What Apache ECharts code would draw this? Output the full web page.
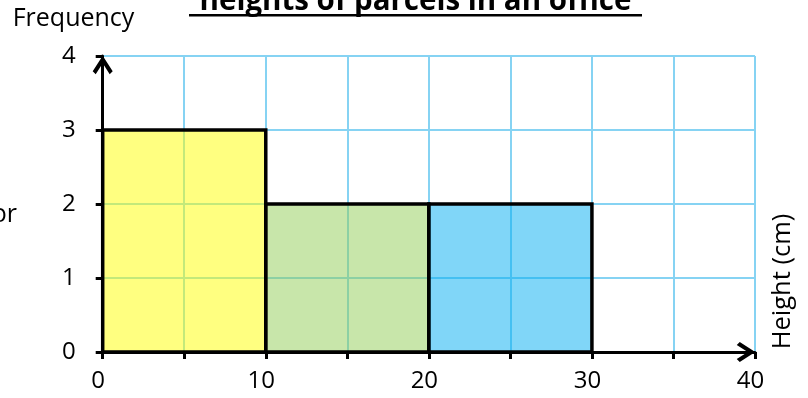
<!DOCTYPE html>
<html>
<head>
<meta charset="utf-8">
<script src="https://cdn.jsdelivr.net/npm/echarts@6/dist/echarts.min.js"></script>
<style>
html,body{margin:0;padding:0;background:#fff;}
#c{width:808px;height:398px;}
</style>
</head>
<body>
<div id="c"></div>
<script>
// ---- data ----
const binStarts = [0, 10, 20];
const binEnds = [10, 20, 30];
const frequencies = [3, 2, 2];
const xTickLabels = ['0', '10', '20', '30', '40'];
const yTickLabels = ['0', '1', '2', '3', '4'];
const titleText = 'heights of parcels in an office';
const yName = 'Frequency';
const xName = 'Height (cm)';
const cutText = 'or';

// ---- style ----
const barFills = ['rgba(255,255,1,0.5)', 'rgba(145,205,85,0.5)', 'rgba(1,173,241,0.5)'];
const FONT = '"Open Sans"';
const gridColor = '#86d3f3';
const chevron = 'path://M10,0 L20,15.5 L17,18.5 L10,7.5 L3,18.5 L0,15.5 Z';

const barData = binStarts.map((s, i) => [s, binEnds[i], frequencies[i], i]);

const chart = echarts.init(document.getElementById('c'), null, {renderer: 'canvas'});
chart.setOption({
  animation: false,
  backgroundColor: '#fff',
  grid: {left: 102.7, right: 53, top: 56, bottom: 46, containLabel: false},
  xAxis: {
    type: 'value', min: 0, max: 40, interval: 5,
    axisLine: {show: true, onZero: false, lineStyle: {color: '#000', width: 3},
      symbol: ['none', chevron], symbolSize: [20, 18.5], symbolOffset: [0, -9]},
    axisTick: {show: true, length: 7, lineStyle: {color: '#000', width: 3}},
    axisLabel: {
      margin: 17, color: '#000', fontFamily: FONT, fontSize: 24, padding: [0, 9, 0, 0],
      formatter: v => (xTickLabels.indexOf(String(v)) >= 0 ? String(v) : '')
    },
    splitLine: {show: true, lineStyle: {color: gridColor, width: 2}}
  },
  yAxis: {
    type: 'value', min: 0, max: 4, interval: 1,
    axisLine: {show: true, onZero: false, lineStyle: {color: '#000', width: 3},
      symbol: ['none', chevron], symbolSize: [20, 18.5], symbolOffset: [0, -9]},
    axisTick: {show: true, length: 7, lineStyle: {color: '#000', width: 3}},
    axisLabel: {
      margin: 27, color: '#000', fontFamily: FONT, fontSize: 24,
      formatter: v => (yTickLabels.indexOf(String(v)) >= 0 ? String(v) : '')
    },
    splitLine: {show: true, lineStyle: {color: gridColor, width: 2}}
  },
  series: [{
    type: 'custom',
    data: barData,
    encode: {x: [0, 1], y: 2},
    renderItem: function (params, api) {
      const p0 = api.coord([api.value(0), api.value(2)]);
      const p1 = api.coord([api.value(1), 0]);
      return {
        type: 'rect',
        shape: {x: p0[0], y: p0[1], width: p1[0] - p0[0], height: p1[1] - p0[1]},
        style: {fill: barFills[api.value(3)], stroke: '#000', lineWidth: 3.5}
      };
    }
  }],
  graphic: [
    {type: 'text', x: 415.5, y: 1.5, style: {text: titleText, fill: '#000', font: 'bold 29.5px ' + FONT, align: 'center', verticalAlign: 'middle'}},
    {type: 'rect', shape: {x: 189, y: 14, width: 453, height: 2.5}, style: {fill: '#000'}},
    {type: 'text', x: 73.5, y: 18.6, style: {text: yName, fill: '#000', font: '25px ' + FONT, align: 'center', verticalAlign: 'middle'}},
    {type: 'text', x: 17, y: 214.5, style: {text: cutText, fill: '#000', font: '25px ' + FONT, align: 'right', verticalAlign: 'middle'}},
    {type: 'text', x: 783, y: 281.5, rotation: Math.PI / 2, style: {text: xName, fill: '#000', font: '25.5px ' + FONT, align: 'center', verticalAlign: 'middle'}}
  ]
});
</script>
</body>
</html>
